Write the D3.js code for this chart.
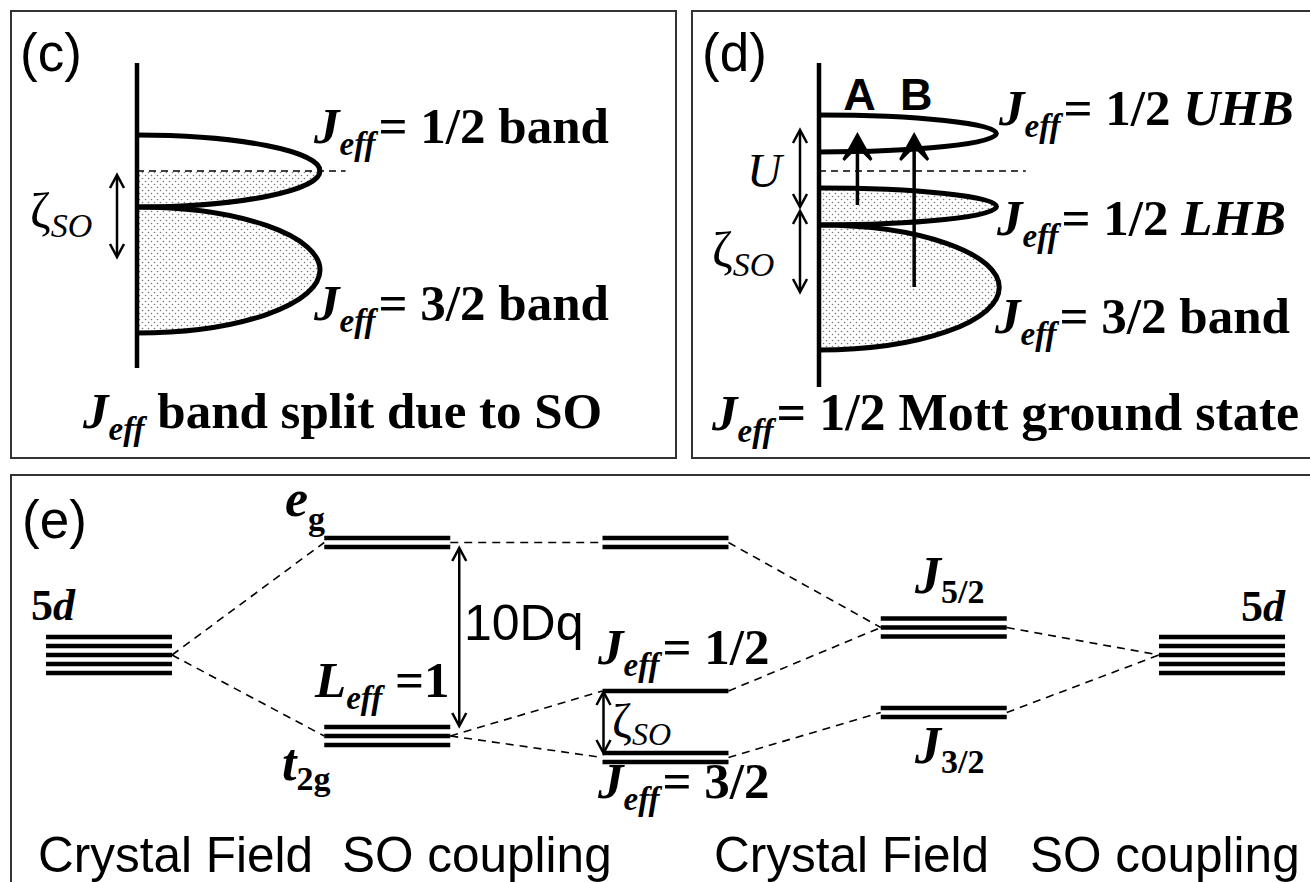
<!DOCTYPE html>
<html>
<head>
<meta charset="utf-8">
<script src="https://cdn.jsdelivr.net/npm/d3@7"></script>
<style>
  html, body { margin: 0; padding: 0; background: #fff; }
  svg { display: block; }
</style>
</head>
<body>
<div id="chart"></div>
<script>
// ---- panel (c): J_eff bands split by SO, energies relative to E_F = 0
const cBandNames = ['1/2 band', '3/2 band'];
const cBandTop = [3.6, -3.6];
const cBandBottom = [-3.6, -16.2];
const cBandDos = [1.0, 1.0];

// ---- panel (d): J_eff = 1/2 Mott state
const dBandNames = ['1/2 UHB', '1/2 LHB', '3/2 band'];
const dBandTop = [5.6, -1.7, -5.4];
const dBandBottom = [1.9, -5.4, -17.9];
const dBandDos = [0.97, 0.97, 0.985];

const transitionNames = ['A', 'B'];
const transitionFrom = [-3.4, -11.6];
const transitionTo = [3.9, 3.9];
const transitionDos = [0.21, 0.52];

// ---- panel (e): level scheme
const levelNames = ['5d', 'eg', 't2g', 'eg2', 'Jeff12', 'Jeff32', 'J52', 'J32', '5d2'];
const levelStage = [0, 1, 1, 2, 2, 2, 3, 3, 4];
const levelEnergy = [0, 1.125, -0.81, 1.125, -0.36, -1.025, 0.275, -0.575, 0];
const levelDegeneracy = [5, 2, 3, 2, 1, 2, 3, 2, 5];
const levelLinks = [[0, 1], [0, 2], [1, 3], [2, 4], [2, 5], [3, 6], [4, 6], [5, 7], [6, 8], [7, 8]];
const stageTitles = ['Crystal Field', 'SO coupling', 'Crystal Field', 'SO coupling'];

const SERIF = '"Liberation Serif", "Times New Roman", serif';
const SANS = '"Liberation Sans", Arial, Helvetica, sans-serif';

const width = 1310, height = 882;
const svg = d3.select('#chart').append('svg')
  .attr('width', width).attr('height', height);

const defs = svg.append('defs');
const pat = defs.append('pattern').attr('id', 'dots')
  .attr('patternUnits', 'userSpaceOnUse').attr('width', 6).attr('height', 6);
pat.append('rect').attr('width', 6).attr('height', 6).attr('fill', '#fff');
pat.append('circle').attr('cx', 1.5).attr('cy', 1.5).attr('r', 0.8).attr('fill', '#777');
pat.append('circle').attr('cx', 4.5).attr('cy', 4.5).attr('r', 0.8).attr('fill', '#777');

// shared scales for top panels
const yTop = d3.scaleLinear().domain([-20, 10]).range([371, 71]);
const dosX = d3.scaleLinear().domain([0, 1]).range([0, 183]);

defs.append('clipPath').attr('id', 'below-ef')
  .append('rect').attr('x', 0).attr('y', yTop(0)).attr('width', width).attr('height', 400);

// panel frames
svg.append('rect').attr('x', 11).attr('y', 11).attr('width', 665).attr('height', 447)
  .attr('fill', 'none').attr('stroke', '#333').attr('stroke-width', 2);
svg.append('rect').attr('x', 692).attr('y', 11).attr('width', 640).attr('height', 447)
  .attr('fill', 'none').attr('stroke', '#333').attr('stroke-width', 2);
svg.append('rect').attr('x', 11).attr('y', 475).attr('width', 1320).attr('height', 430)
  .attr('fill', 'none').attr('stroke', '#333').attr('stroke-width', 2);

function richText(g, x, y, segs, anchor) {
  const t = g.append('text').attr('x', x).attr('y', y)
    .attr('text-anchor', anchor || 'start').attr('fill', '#000');
  let shift = 0;
  segs.forEach(s => {
    const sp = t.append('tspan').text(s.t)
      .attr('font-family', s.sans ? SANS : SERIF)
      .attr('font-size', s.size)
      .attr('font-weight', s.b ? 'bold' : 'normal')
      .attr('font-style', s.i ? 'italic' : 'normal');
    const dy = (s.dy || 0) - shift;
    if (dy) sp.attr('dy', dy);
    if (s.dx) sp.attr('dx', s.dx);
    shift = s.dy || 0;
  });
  return t;
}

// J_eff + rest (rest bold, with optional italic tail)
function jeff(g, x, y, rest, italicTail, restSize) {
  const segs = [
    { t: 'J', b: 1, i: 1, size: 51 },
    { t: 'eff', b: 1, i: 1, size: 33, dy: 12 },
    { t: '= ' + rest, b: 1, size: restSize || 51, dx: 3 }
  ];
  if (italicTail) segs.push({ t: italicTail, b: 1, i: 1, size: restSize || 51 });
  return richText(g, x, y, segs);
}

function openHead(g, x, y, dir) {
  // dir = -1 points up, +1 points down
  g.append('path')
    .attr('d', `M${x - 7},${y - dir * 13}L${x},${y}L${x + 7},${y - dir * 13}`)
    .attr('fill', 'none').attr('stroke', '#000').attr('stroke-width', 2.5)
    .attr('stroke-linejoin', 'miter');
}

function doubleArrow(g, x, y1, y2) {
  g.append('line').attr('x1', x).attr('x2', x).attr('y1', y1 + 1).attr('y2', y2 - 1)
    .attr('stroke', '#000').attr('stroke-width', 2.5);
  openHead(g, x, y1, -1);
  openHead(g, x, y2, 1);
}

function zeta(g, x, y, size, subSize, drop) {
  richText(g, x, y, [
    { t: 'ζ', size: size },
    { t: 'SO', i: 1, size: subSize, dy: drop }
  ]);
}

function drawBands(g, axisX, tops, bottoms, dos) {
  const paths = tops.map((top, i) => {
    const y0 = yTop(top), y1 = yTop(bottoms[i]);
    const rx = dosX(dos[i]), ry = (y1 - y0) / 2;
    return `M${axisX},${y0}A${rx},${ry} 0 0 1 ${axisX},${y1}`;
  });
  g.selectAll('path.fill').data(paths).join('path').attr('class', 'fill')
    .attr('d', d => d + 'Z')
    .attr('fill', 'url(#dots)').attr('stroke', 'none')
    .attr('clip-path', 'url(#below-ef)');
  g.selectAll('path.edge').data(paths).join('path').attr('class', 'edge')
    .attr('d', d => d)
    .attr('fill', 'none').attr('stroke', '#000').attr('stroke-width', 5);
}

// ================= panel (c)
const gc = svg.append('g');
const axC = 137;
richText(gc, 20, 71, [{ t: '(c)', sans: 1, size: 53 }]);
drawBands(gc, axC, cBandTop, cBandBottom, cBandDos);
gc.append('line').attr('x1', axC).attr('x2', axC + dosX(1.14))
  .attr('y1', yTop(0)).attr('y2', yTop(0))
  .attr('stroke', '#000').attr('stroke-width', 1.5).attr('stroke-dasharray', '7,5');
gc.append('line').attr('x1', axC).attr('x2', axC)
  .attr('y1', yTop(10.8)).attr('y2', yTop(-19.7))
  .attr('stroke', '#000').attr('stroke-width', 4.5);
doubleArrow(gc, axC - 20, yTop(-0.4), yTop(-8.6));
zeta(gc, 30, 228, 50, 34, 9);
jeff(gc, 314, 143, cBandNames[0]);
jeff(gc, 314, 320, cBandNames[1]);
richText(gc, 83, 428, [
  { t: 'J', b: 1, i: 1, size: 51 },
  { t: 'eff', b: 1, i: 1, size: 33, dy: 12 },
  { t: ' band split due to SO', b: 1, size: 51 }
]);

// ================= panel (d)
const gd = svg.append('g');
const axD = 819;
richText(gd, 702, 71, [{ t: '(d)', sans: 1, size: 53 }]);
drawBands(gd, axD, dBandTop, dBandBottom, dBandDos);
gd.append('line').attr('x1', axD).attr('x2', axD + dosX(1.13))
  .attr('y1', yTop(0)).attr('y2', yTop(0))
  .attr('stroke', '#000').attr('stroke-width', 1.5).attr('stroke-dasharray', '7,5');
gd.append('line').attr('x1', axD).attr('x2', axD)
  .attr('y1', yTop(10.8)).attr('y2', yTop(-21.6))
  .attr('stroke', '#000').attr('stroke-width', 4.5);

// optical transitions A and B
const headPath = 'M0,0L15,27L13,29L3,19L-3,19L-13,29L-15,27Z';
transitionNames.forEach((name, i) => {
  const x = axD + dosX(transitionDos[i]);
  gd.append('line').attr('x1', x).attr('x2', x)
    .attr('y1', yTop(transitionFrom[i])).attr('y2', yTop(transitionTo[i]) + 10)
    .attr('stroke', '#000').attr('stroke-width', 3.5);
  gd.append('path').attr('d', headPath)
    .attr('transform', `translate(${x},${yTop(transitionTo[i])})`)
    .attr('fill', '#000');
  richText(gd, x + 2, 110, [{ t: name, sans: 1, b: 1, size: 45 }], 'middle');
});

doubleArrow(gd, axD - 19, yTop(4.1), yTop(-3.6));
doubleArrow(gd, axD - 19, yTop(-4.0), yTop(-12.1));
richText(gd, 747, 187, [{ t: 'U', i: 1, size: 48 }]);
zeta(gd, 712, 267, 50, 34, 9);
jeff(gd, 999, 125, '1/2 ', 'UHB');
jeff(gd, 997, 235, '1/2 ', 'LHB');
jeff(gd, 995, 333, dBandNames[2]);
jeff(gd, 712, 430, '1/2 Mott ground state', null, 52);

// ================= panel (e)
const ge = svg.append('g');
const xStage = d3.scaleLinear().domain([0, 4]).range([46, 1159]);
const barW = 126, lineGap = 9;
const yE = d3.scaleLinear().domain([-1, 1]).range([755, 555]);

richText(ge, 22, 538, [{ t: '(e)', sans: 1, size: 53 }]);

// dashed correlation lines
ge.selectAll('line.link').data(levelLinks).join('line').attr('class', 'link')
  .attr('x1', d => xStage(levelStage[d[0]]) + barW)
  .attr('y1', d => yE(levelEnergy[d[0]]))
  .attr('x2', d => xStage(levelStage[d[1]]))
  .attr('y2', d => yE(levelEnergy[d[1]]))
  .attr('stroke', '#000').attr('stroke-width', 1.6).attr('stroke-dasharray', '8,6');

// level bars
const bars = [];
levelNames.forEach((n, i) => {
  const k = levelDegeneracy[i];
  for (let j = 0; j < k; j++) {
    bars.push({ x: xStage(levelStage[i]), y: yE(levelEnergy[i]) + (j - (k - 1) / 2) * lineGap });
  }
});
ge.selectAll('line.bar').data(bars).join('line').attr('class', 'bar')
  .attr('x1', d => d.x).attr('x2', d => d.x + barW)
  .attr('y1', d => d.y).attr('y2', d => d.y)
  .attr('stroke', '#000').attr('stroke-width', 4.5);

// 10Dq and zeta_SO arrows
doubleArrow(ge, xStage(1) + barW + 9, yE(levelEnergy[1]) + 5.5, yE(levelEnergy[2]) - 10);
doubleArrow(ge, xStage(2) + 1, yE(levelEnergy[4]) + 1, yE(levelEnergy[5]) - 4.5);

// labels
richText(ge, 31, 620, [{ t: '5', b: 1, size: 44 }, { t: 'd', b: 1, i: 1, size: 44 }]);
richText(ge, 1285, 621, [{ t: '5', b: 1, size: 44 }, { t: 'd', b: 1, i: 1, size: 44 }], 'end');
richText(ge, 285, 516, [{ t: 'e', b: 1, i: 1, size: 52 }, { t: 'g', b: 1, size: 34, dy: 14 }]);
richText(ge, 282, 780, [{ t: 't', b: 1, i: 1, size: 52 }, { t: '2g', b: 1, size: 34, dy: 10 }]);
richText(ge, 315, 697, [
  { t: 'L', b: 1, i: 1, size: 51 },
  { t: 'eff', b: 1, i: 1, size: 33, dy: 12 },
  { t: ' =1', b: 1, size: 51 }
]);
richText(ge, 464, 640, [{ t: '10Dq', sans: 1, size: 50 }]);
jeff(ge, 598, 664, '1/2');
jeff(ge, 598, 798, '3/2');
zeta(ge, 612, 737, 48, 32, 8);
richText(ge, 915, 593, [{ t: 'J', b: 1, i: 1, size: 52 }, { t: '5/2', b: 1, size: 34, dy: 10 }]);
richText(ge, 915, 763, [{ t: 'J', b: 1, i: 1, size: 52 }, { t: '3/2', b: 1, size: 34, dy: 10 }]);

const titleX = [38, 342, 714, 1030];
ge.selectAll('text.stage').data(stageTitles).join('text').attr('class', 'stage')
  .attr('x', (d, i) => titleX[i]).attr('y', 872)
  .attr('font-family', SANS).attr('font-size', 49.5).attr('fill', '#000')
  .text(d => d);
</script>
</body>
</html>
